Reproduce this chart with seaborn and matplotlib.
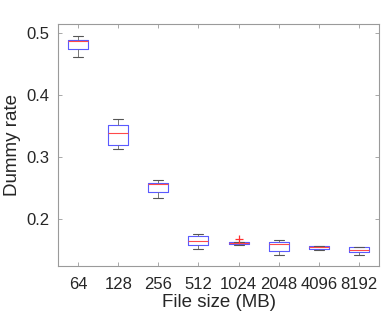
"""
Dummy rate vs file size — MATLAB-style boxplot recreated with seaborn.
"""
import pandas as pd
import matplotlib
matplotlib.use('Agg')
import matplotlib.pyplot as plt
import seaborn as sns

sns.set_style("white")
plt.rcParams['font.family'] = ['Liberation Sans', 'DejaVu Sans']
plt.rcParams['axes.unicode_minus'] = False

# Samples per file size (low whisker, Q1, median, Q3, high whisker ...)
size_64 = [0.4618, 0.4747, 0.4866, 0.4892, 0.4947]
size_128 = [0.3134, 0.3190, 0.3380, 0.3520, 0.3620]
size_256 = [0.2344, 0.2440, 0.2560, 0.2580, 0.2634]
size_512 = [0.1511, 0.1576, 0.1645, 0.1726, 0.1763]
size_1024 = [0.1580, 0.1586, 0.1592, 0.1600, 0.1608, 0.1615, 0.1622, 0.1626, 0.1682]
size_2048 = [0.1419, 0.1484, 0.1597, 0.1634, 0.1661]
size_4096 = [0.1495, 0.1521, 0.1550, 0.1565, 0.1570]
size_8192 = [0.1419, 0.1463, 0.1500, 0.1540, 0.1550]

size_labels = ['64', '128', '256', '512', '1024', '2048', '4096', '8192']
samples = [size_64, size_128, size_256, size_512,
           size_1024, size_2048, size_4096, size_8192]

y_ticks = [0.2, 0.3, 0.4, 0.5]

rows = []
for label, vals in zip(size_labels, samples):
    for v in vals:
        rows.append({'size': label, 'rate': v})
df = pd.DataFrame(rows)

FRAME = '#9a9a9a'
TEXT = '#262626'

fig = plt.figure(figsize=(3.82, 3.16), dpi=100)
ax = fig.add_axes([0.152, 0.158, 0.840, 0.766])

sns.boxplot(data=df, x='size', y='rate', order=size_labels, ax=ax,
            width=0.5, fill=False, whis=1.5, linewidth=0.8,
            boxprops=dict(color='#5a5aff', linewidth=0.8),
            medianprops=dict(color='#ff4a4a', linewidth=0.8),
            whiskerprops=dict(color='#777777', linewidth=0.7),
            capprops=dict(color='#555555', linewidth=0.8),
            flierprops=dict(marker='+', color='#ff3030',
                            markeredgecolor='#ff3030',
                            markersize=6, markeredgewidth=0.9))

ax.set_xlim(-0.5, 7.5)
ax.set_ylim(0.124, 0.5145)
ax.set_yticks(y_ticks)
ax.set_yticklabels([f'{t:.1f}' for t in y_ticks])

ax.set_xlabel('File size (MB)', fontsize=13.5, color=TEXT, labelpad=1)
ax.set_ylabel('Dummy rate', fontsize=13.5, color=TEXT, labelpad=4)

ax.tick_params(direction='in', length=3, width=0.6, color=FRAME,
               labelsize=12, labelcolor=TEXT, top=True, right=True,
               bottom=True, left=True)
ax.tick_params(axis='x', pad=8)
ax.tick_params(axis='y', pad=6)

for side in ['top', 'bottom', 'left', 'right']:
    ax.spines[side].set_visible(True)
    ax.spines[side].set_color(FRAME)
    ax.spines[side].set_linewidth(0.8)

fig.savefig('out.png', dpi=100)
plt.close(fig)
